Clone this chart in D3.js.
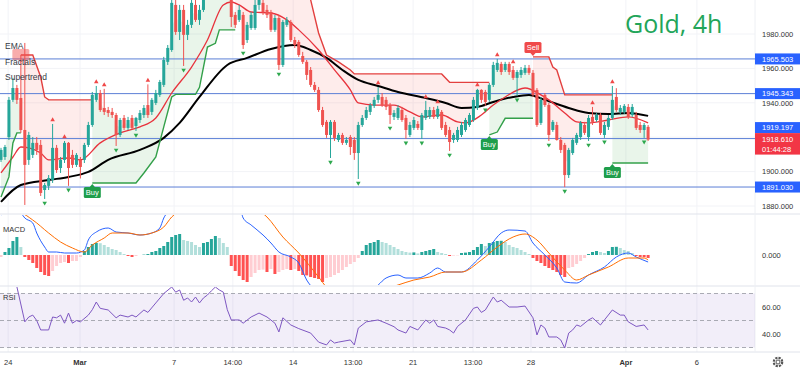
<!DOCTYPE html>
<html>
<head>
<meta charset="utf-8">
<script src="https://cdnjs.cloudflare.com/ajax/libs/d3/7.8.5/d3.min.js"></script>
<style>
  html, body { margin: 0; padding: 0; background: #fff; }
  svg { display: block; font-family: "Liberation Sans", Arial, sans-serif; }
</style>
</head>
<body>
<svg id="chart"></svg>
<script>
// ---- data (Gold 4h, 24 Feb - 1 Apr) ----
const opens = [
  1906.8, 1908.5, 1920.1, 1941.7, 1948.6, 1942.8, 1924.2, 1906.8, 1909.7, 1916.7,
  1915.5, 1889.3, 1891.7, 1895.1, 1913.8, 1902.1, 1906.8, 1916.7, 1909.7, 1903.9,
  1906.8, 1906.8, 1915.5, 1927.1, 1941.7, 1945.7, 1937.0, 1935.8, 1934.7, 1932.9,
  1921.3, 1931.2, 1925.4, 1931.2, 1926.5, 1930.0, 1932.9, 1938.7, 1934.7, 1939.9,
  1944.6, 1950.4, 1963.8, 1970.7, 1996.9, 1981.2, 1994.0, 1979.5, 1985.3, 1996.9,
  1988.2, 1994.0, 2005.6, 2012.0, 2040.0, 2050.0, 2040.0, 2025.0, 2008.0, 1991.1,
  1988.2, 1991.1, 1976.5, 1983.5, 1983.5, 1996.9, 1998.1, 1994.0, 1992.8, 1982.4,
  1989.3, 1962.0, 1985.3, 1987.0, 1976.5, 1975.4, 1967.2, 1963.8, 1959.1, 1950.4,
  1947.5, 1935.8, 1928.9, 1921.3, 1928.9, 1918.4, 1921.3, 1916.7, 1920.1, 1918.4,
  1910.8, 1927.1, 1931.2, 1934.7, 1938.2, 1941.7, 1943.4, 1941.7, 1938.7, 1931.8,
  1931.2, 1935.8, 1931.2, 1921.3, 1925.4, 1927.7, 1924.2, 1931.2, 1931.8, 1935.8,
  1931.8, 1934.7, 1927.1, 1924.2, 1918.4, 1918.4, 1921.3, 1924.2, 1927.1, 1930.0,
  1937.0, 1947.5, 1946.3, 1941.7, 1950.4, 1959.1, 1962.6, 1959.1, 1962.6, 1959.1,
  1954.5, 1956.2, 1957.4, 1960.3, 1957.4, 1947.5, 1928.3, 1944.6, 1938.7, 1924.2,
  1927.1, 1918.4, 1915.5, 1898.0, 1910.8, 1916.7, 1920.1, 1927.1, 1920.1, 1931.8,
  1930.0, 1932.9, 1921.3, 1926.0, 1931.2, 1943.4, 1934.7, 1934.7, 1937.6, 1932.9,
  1932.9, 1927.1, 1924.2, 1926.0
];
const highs = [
  1913.8, 1915.5, 1943.4, 1954.5, 1950.4, 1967.8, 1974.8, 1923.1, 1920.1, 1920.1,
  1918.4, 1893.4, 1898.0, 1927.7, 1915.5, 1908.5, 1917.8, 1917.2, 1912.6, 1910.8,
  1908.5, 1916.7, 1928.9, 1946.3, 1949.8, 1947.5, 1948.1, 1937.6, 1937.0, 1934.1,
  1931.2, 1932.9, 1931.8, 1932.9, 1931.8, 1935.8, 1938.7, 1950.7, 1942.8, 1947.5,
  1953.3, 1966.7, 1973.6, 2002.7, 2001.5, 1996.9, 1996.9, 1988.2, 2002.7, 2000.5,
  1996.9, 2008.5, 2015.0, 2045.0, 2070.0, 2060.0, 2045.0, 2030.0, 2010.0, 1992.8,
  1996.9, 1992.8, 1987.0, 1992.8, 1999.8, 2004.4, 1999.8, 1996.9, 1994.0, 1991.1,
  1991.1, 1988.2, 1989.9, 1988.2, 1978.3, 1976.5, 1969.6, 1964.9, 1960.8, 1952.1,
  1949.2, 1937.6, 1930.0, 1930.0, 1930.0, 1922.5, 1922.5, 1920.1, 1921.3, 1920.1,
  1928.9, 1932.9, 1937.6, 1939.9, 1943.4, 1949.2, 1945.7, 1943.4, 1939.9, 1935.8,
  1938.7, 1937.6, 1932.9, 1928.9, 1931.8, 1929.4, 1934.1, 1941.1, 1937.6, 1937.6,
  1938.2, 1935.8, 1928.9, 1926.0, 1922.5, 1926.0, 1928.9, 1931.2, 1934.1, 1943.4,
  1948.1, 1947.9, 1947.5, 1951.5, 1963.8, 1965.5, 1963.8, 1963.8, 1963.8, 1961.4,
  1959.1, 1960.8, 1962.0, 1962.0, 1959.1, 1948.6, 1943.4, 1945.7, 1939.9, 1930.0,
  1928.9, 1920.1, 1916.7, 1913.8, 1919.6, 1922.5, 1929.4, 1928.9, 1932.9, 1937.6,
  1934.1, 1934.1, 1928.9, 1932.9, 1949.8, 1948.5, 1938.7, 1939.3, 1939.3, 1939.3,
  1934.7, 1928.9, 1928.3, 1927.1
];
const lows = [
  1905.6, 1906.8, 1918.4, 1940.5, 1939.3, 1922.5, 1880.6, 1903.9, 1907.9, 1909.7,
  1885.8, 1884.1, 1889.3, 1893.4, 1899.2, 1899.2, 1905.0, 1891.7, 1902.1, 1902.7,
  1896.0, 1905.0, 1914.3, 1926.0, 1940.5, 1934.7, 1932.9, 1931.8, 1931.2, 1914.9,
  1920.1, 1924.2, 1924.2, 1924.8, 1923.6, 1928.3, 1931.2, 1931.2, 1932.9, 1938.7,
  1943.4, 1949.2, 1962.0, 1969.6, 1979.5, 1976.5, 1961.4, 1976.5, 1983.5, 1987.0,
  1985.3, 1992.8, 2002.5, 2010.0, 2030.0, 2035.0, 2015.0, 2002.0, 1984.1, 1983.5,
  1987.0, 1971.3, 1974.8, 1982.4, 1982.4, 1994.0, 1991.1, 1989.3, 1981.2, 1981.2,
  1959.1, 1960.8, 1984.1, 1975.4, 1971.9, 1966.7, 1962.6, 1953.3, 1949.2, 1946.3,
  1934.7, 1926.0, 1919.6, 1907.9, 1917.8, 1917.2, 1915.5, 1915.5, 1909.7, 1906.8,
  1895.7, 1926.0, 1930.0, 1932.9, 1937.0, 1939.9, 1937.6, 1935.8, 1927.7, 1930.0,
  1930.0, 1928.9, 1919.0, 1920.1, 1924.2, 1924.2, 1919.0, 1930.0, 1930.6, 1930.6,
  1930.6, 1924.2, 1920.1, 1912.0, 1916.7, 1917.2, 1920.1, 1923.1, 1926.0, 1928.9,
  1935.8, 1939.9, 1938.2, 1940.5, 1949.2, 1957.9, 1956.2, 1957.9, 1956.2, 1953.3,
  1944.0, 1954.5, 1956.2, 1956.2, 1943.4, 1926.0, 1927.1, 1937.6, 1917.8, 1923.1,
  1918.0, 1910.8, 1891.0, 1896.3, 1909.7, 1915.5, 1918.4, 1921.3, 1917.8, 1927.1,
  1928.9, 1921.3, 1919.6, 1924.2, 1930.0, 1934.7, 1932.9, 1933.5, 1930.6, 1931.8,
  1924.2, 1922.5, 1919.6, 1917.8
];
const closes = [
  1912.6, 1914.3, 1941.7, 1948.6, 1941.7, 1924.2, 1903.9, 1921.3, 1916.7, 1912.6,
  1887.6, 1892.2, 1896.3, 1913.8, 1900.9, 1906.8, 1916.7, 1902.1, 1903.9, 1909.7,
  1902.7, 1915.5, 1927.1, 1944.6, 1945.7, 1935.8, 1934.7, 1934.1, 1932.9, 1921.3,
  1930.0, 1925.4, 1930.0, 1925.4, 1931.2, 1934.1, 1937.0, 1932.9, 1941.7, 1945.7,
  1952.1, 1964.9, 1971.9, 1998.1, 1981.2, 1994.0, 1979.5, 1985.3, 1998.1, 1988.2,
  1994.0, 2005.6, 2012.0, 2040.0, 2050.0, 2040.0, 2025.0, 2008.0, 1989.9, 1985.3,
  1994.0, 1973.6, 1985.3, 1991.1, 1996.9, 2001.0, 1992.8, 1991.1, 1982.4, 1989.3,
  1962.0, 1987.0, 1988.2, 1976.5, 1973.6, 1967.8, 1963.8, 1956.2, 1950.4, 1947.5,
  1935.8, 1927.1, 1921.3, 1928.9, 1919.6, 1921.3, 1916.7, 1918.4, 1914.3, 1910.8,
  1927.1, 1931.2, 1935.8, 1938.7, 1941.7, 1944.6, 1938.7, 1937.6, 1932.9, 1934.1,
  1937.0, 1930.0, 1924.2, 1927.1, 1930.0, 1925.4, 1932.9, 1935.8, 1935.8, 1931.8,
  1936.5, 1925.4, 1921.3, 1917.2, 1921.3, 1924.2, 1927.1, 1930.0, 1932.9, 1941.7,
  1947.5, 1941.7, 1940.5, 1950.4, 1962.0, 1963.2, 1957.9, 1962.6, 1957.9, 1954.5,
  1957.9, 1959.1, 1960.3, 1957.4, 1944.6, 1927.1, 1941.7, 1938.7, 1921.3, 1928.9,
  1918.4, 1912.6, 1898.0, 1912.6, 1918.4, 1921.3, 1928.3, 1922.5, 1931.2, 1928.9,
  1932.9, 1922.5, 1927.1, 1931.2, 1941.7, 1935.8, 1937.0, 1938.2, 1931.8, 1937.6,
  1925.4, 1924.2, 1927.1, 1918.61
];

// EMA lines, [bar, value]
const emaFast = [[0,1899.2],[3,1908.5],[5,1914.3],[7,1913.8],[10,1910.8],[12,1906.8],[17,1907.9],[20,1906.8],
  [25,1916.7],[30,1922.5],[35,1926.0],[39,1931.2],[43,1945.7],[48,1960.8],[52,1976.5],[56,1996.9],[58,1998.6],
  [60,1996.9],[63,1992.8],[68,1992.2],[72,1988.2],[75,1982.4],[80,1970.7],[84,1959.1],[88,1947.5],[90,1939.9],
  [94,1938.7],[99,1938.7],[103,1934.7],[106,1931.8],[111,1932.9],[115,1928.9],[117,1928.3],[121,1932.9],
  [124,1938.7],[127,1943.4],[132,1948.6],[136,1944.6],[138,1941.7],[142,1934.1],[145,1928.9],[148,1928.3],
  [153,1930.0],[158,1931.8],[163,1928.3]];
const emaSlow = [[0,1882.4],[5,1892.2],[12,1895.1],[17,1896.9],[22,1899.8],[27,1906.8],[35,1912.6],[41,1919.6],
  [45,1928.3],[50,1943.4],[57,1962.0],[62,1966.1],[68,1971.3],[74,1973.6],[78,1970.7],[82,1966.1],[86,1959.1],
  [90,1953.3],[95,1949.8],[100,1946.3],[107,1942.8],[112,1939.9],[116,1937.0],[120,1937.6],[124,1940.5],
  [129,1943.4],[133,1944.6],[137,1941.7],[143,1937.0],[148,1934.1],[153,1933.5],[158,1934.1],[163,1932.4]];

// supertrend segments
const superUp = [
  [[0,1885.3],[2,1896.9],[3,1916.7],[4,1922.5],[5,1922.5]],
  [[23,1893.4],[34,1893.4],[36,1899.2],[39,1908.5],[41,1926.0],[43,1943.4],[44,1944.9],[49,1944.9],[50,1949.0],
   [52,1972.4],[54,1974.6],[55,1982.4],[59,1982.4]],
  [[123,1921.3],[125,1923.0],[127,1931.0],[134,1931.0]],
  [[154,1905.0],[163,1905.0]]
];
const superDown = [
  [[5,1967.8],[8,1967.8],[10,1955.0],[11,1943.4],[12,1941.7],[23,1941.7]],
  [[59,2020.0],[75,2015.0],[77,2003.0],[78,1999.8],[80,1980.6],[82,1967.8],[85,1963.8],[88,1959.1],[89,1956.8],
   [111,1956.8],[113,1951.9],[123,1951.9]],
  [[134,1966.7],[138,1966.7],[139,1960.8],[140,1959.1],[142,1944.6],[154,1944.6]]
];

const fractalUp = [13, 16, 24, 26, 37, 95, 107, 110, 120, 125, 129, 149, 154];
const fractalDown = [11, 17, 29, 34, 46, 61, 70, 83, 90, 98, 102, 106, 113, 122, 130, 138, 142, 148, 152, 162];

const levels = [1965.503, 1945.343, 1919.197, 1891.030];
const lastPrice = 1918.61;
const countdown = '01:44:28';
const priceTicks = [1880, 1900, 1940, 1960, 1980];

// MACD
const hist = [
  -1, 1.5, 3.5, 7, 9, 4, -1, -2.5, -4, -6.5,
  -8.5, -10, -10.5, -8, -5.5, -4, -3.5, -4, -3, -3,
  -1, 2, 4, 5.5, 6, 5.9, 5, 4, 3, 2.5,
  1.5, 0.5, -0.5, -1, -0.5, 0, 0.2, 0.5, 1.5, 2,
  3.5, 4.5, 6.5, 9, 10, 10.5, 7.5, 7, 6.5, 5,
  4, 6, 6.5, 8, 9.5, 8.5, 6, 4, -5.5, -8,
  -10.5, -12.5, -13.5, -11, -9, -7.5, -7.3, -8.5, -7, -9.5,
  -8.5, -7.5, -7, -7.5, -7, -8, -10, -10.2, -11, -11.5,
  -12, -13.5, -11.5, -11, -10, -9, -7.5, -6, -4.5, -3.5,
  -1.5, 2, 5, 6, 6.5, 7.5, 6.5, 6, 5, 4,
  3, 2, 1.5, 1.2, 1.3, 0.8, 1.5, 2, 2.5, 3,
  1.5, 1, 0.5, -0.5, -0.3, -0.2, 1, 1.2, 1.5, 2.5,
  4, 5.5, 4.5, 6, 6.5, 7, 7.1, 6.5, 5, 4,
  3.5, 2.5, 1.5, 0.5, -1.5, -3, -4, -5.5, -6.5, -7.5,
  -8.5, -10, -11, -6.5, -6, -4.5, -3, -1.5, 0.5, 1.5,
  2, 1.5, 1, 2, 4, 4.1, 3.5, 2.5, 2, 1,
  -0.5, -1, -1.1, -1.5
];
const macdLine = [[0,20],[3,23],[5,21],[6,18.5],[8,16],[9,11],[11,4],[12,1.5],[14,1.5],[16,1],[19,1],[21,2.5],
  [22,7.5],[24,11.5],[27,13.5],[29,11.5],[32,11],[35,10],[38,11],[40,13.5],[41,18.5],[42,21.5],[46,28],[50,33],
  [54,36],[57,34],[60,26],[61,18.5],[63,15],[66,10],[68,6],[70,1.5],[73,-1],[75,-4],[77,-12.5],[79,-17.5],
  [84,-25],[90,-22],[95,-15],[97,-11.5],[100,-10],[102,-11.5],[105,-11.5],[108,-9],[110,-6.5],[112,-8.5],
  [116,-8.5],[120,-2.5],[123,4],[126,11],[128,12.5],[132,12],[134,6],[137,0],[140,-6.5],[142,-13.5],
  [145,-14],[148,-10],[152,-6],[155,-1],[158,1],[160,-1],[163,-3.5]];
const signalLine = [[0,22],[5,21],[8,17.5],[12,11],[15,6.5],[18,3.5],[21,1.5],[23,5],[26,8.5],[28,11],[32,11],
  [35,10],[38,11],[41,14],[43,19],[50,26],[57,28],[62,25],[67,19],[71,9],[75,1],[80,-11],[82,-16],[88,-21],
  [93,-19],[100,-15],[104,-12.5],[108,-11],[112,-8.5],[116,-8.5],[121,-2.5],[125,4],[129,9],[132,10.5],
  [135,7.5],[138,1],[142,-7.5],[145,-12.5],[148,-10],[153,-6],[158,-1.5],[162,-1.5],[163,-2.5]];

// RSI
const rsiPts = [[0,78],[3,80],[4,75],[6,49],[7,52.6],[8,54],[9,50],[10,43],[12,43],[13,52.6],[14,52],[15,54],
  [16,48],[17,55.5],[18,48],[19,50],[20,49],[22,54],[23,58],[24,63.7],[25,59],[27,57.8],[29,52],[30,54],
  [32,52.6],[33,54],[34,52.6],[36,57.8],[37,56],[39,63],[41,70],[43,74.8],[44,71],[45,72.6],[46,65],[47,66.7],
  [48,63.7],[49,67.4],[50,63],[51,66.7],[52,68.9],[53,72],[54,74.8],[55,72.6],[56,71],[57,58],[58,50.4],
  [60,50.4],[61,48],[63,52.6],[65,55.5],[67,52.6],[69,48],[70,41.5],[71,52],[73,46.7],[75,44],[78,40.7],
  [80,34],[82,31.9],[83,35.6],[84,33.3],[85,34],[88,35.6],[89,31.9],[90,44.4],[92,49],[95,50.4],[97,48],
  [99,45.4],[100,43],[102,40.7],[103,45.6],[105,43],[107,50.4],[108,48],[109,50.4],[110,45.6],[112,44.4],
  [113,43],[114,40.7],[115,45.6],[117,50.4],[119,59],[120,60],[121,56],[122,57.8],[124,67.4],[125,63.7],
  [126,65],[128,60],[130,60],[132,60.7],[134,52],[135,39.3],[136,46.7],[137,44.4],[138,37.8],[140,37.8],
  [141,35.6],[142,29.6],[143,40.7],[144,43],[145,46.7],[146,45.6],[148,50.4],[149,52],[151,46.7],[152,50.4],
  [154,57.8],[156,54],[157,54],[158,49],[160,45.6],[162,46.7],[163,43]];
const rsiTicks = [40, 60];

// time axis
const timeLabels = ['24', 'Mar', '7', '14:00', '14', '13:00', '21', '13:00', '28', 'Apr', '6'];
const timeBars = [1.8, 19.9, 43.6, 58.4, 73.6, 88.7, 103.8, 118.9, 133.5, 157.4, 175.3];

// ---- drawing ----
const W = 800, H = 371, plotRight = 755;
const upColor = '#26a69a', downColor = '#ef5350';
const svg = d3.select('#chart').attr('width', W).attr('height', H);
svg.append('rect').attr('width', W).attr('height', H).attr('fill', '#fff');

const x = d3.scaleLinear().domain([0, closes.length - 1]).range([1, 648.1]);
const y = d3.scaleLinear().domain([1880, 1980]).range([206, 34]);
const yMacd = d3.scaleLinear().domain([0, 10]).range([255, 235]);
const yRsi = d3.scaleLinear().domain([30, 70]).range([347.5, 293.5]);

const defs = svg.append('defs');
const addClip = (id, y0, y1) => defs.append('clipPath').attr('id', id)
  .append('rect').attr('x', 0).attr('y', y0).attr('width', plotRight).attr('height', y1 - y0);
addClip('cp-price', 0, 213);
addClip('cp-macd', 215, 285);
addClip('cp-rsi', 287, 351);

// grid
const grid = svg.append('g');
grid.selectAll('line.v').data(timeBars).join('line')
  .attr('x1', d => x(d)).attr('x2', d => x(d)).attr('y1', 0).attr('y2', 352)
  .attr('stroke', '#f2f3f7');
grid.selectAll('line.h').data(priceTicks.concat([1920])).join('line')
  .attr('x1', 0).attr('x2', plotRight).attr('y1', d => y(d)).attr('y2', d => y(d))
  .attr('stroke', '#f2f3f7');

// panel separators
[214, 286, 352].forEach(v => svg.append('line').attr('x1', 0).attr('x2', W).attr('y1', v).attr('y2', v)
  .attr('stroke', '#e0e3eb'));
svg.append('line').attr('x1', plotRight).attr('x2', plotRight).attr('y1', 0).attr('y2', 352).attr('stroke', '#eef0f4');

// ---- price panel ----
const gp = svg.append('g').attr('clip-path', 'url(#cp-price)');
const mids = opens.map((o, i) => (o + closes[i]) / 2);

function fillPts(seg) {
  const a = seg[0][0], b = seg[seg.length - 1][0];
  const pts = seg.map(([i, v]) => [x(i), y(v)]);
  for (let i = b; i >= a; i--) pts.push([x(i), y(mids[i])]);
  return pts;
}
gp.selectAll('polygon.up').data(superUp).join('polygon')
  .attr('points', d => fillPts(d).join(' ')).attr('fill', 'rgba(76,175,80,0.12)');
gp.selectAll('polygon.dn').data(superDown).join('polygon')
  .attr('points', d => fillPts(d).join(' ')).attr('fill', 'rgba(244,67,54,0.10)');

// horizontal levels
gp.selectAll('line.lvl').data(levels).join('line')
  .attr('x1', 0).attr('x2', plotRight).attr('y1', d => y(d)).attr('y2', d => y(d))
  .attr('stroke', '#5b7fd6').attr('stroke-width', 1);

const line = d3.line().x(d => x(d[0])).y(d => y(d[1]));
gp.append('path').datum(emaSlow).attr('d', line.curve(d3.curveMonotoneX))
  .attr('fill', 'none').attr('stroke', '#000').attr('stroke-width', 2);
gp.append('path').datum(emaFast).attr('d', line.curve(d3.curveMonotoneX))
  .attr('fill', 'none').attr('stroke', '#e8333d').attr('stroke-width', 1.3);

const stLine = d3.line().x(d => x(d[0])).y(d => y(d[1]));
gp.selectAll('path.stu').data(superUp).join('path').attr('d', stLine)
  .attr('fill', 'none').attr('stroke', '#33a04a').attr('stroke-width', 1.4);
gp.selectAll('path.std').data(superDown).join('path').attr('d', stLine)
  .attr('fill', 'none').attr('stroke', '#e3403f').attr('stroke-width', 1.4);

// candles
const idx = d3.range(closes.length);
const candleColor = i => closes[i] >= opens[i] ? upColor : downColor;
gp.selectAll('line.wick').data(idx).join('line')
  .attr('x1', i => x(i)).attr('x2', i => x(i))
  .attr('y1', i => y(highs[i])).attr('y2', i => y(lows[i]))
  .attr('stroke', candleColor).attr('stroke-width', 1);
gp.selectAll('rect.body').data(idx).join('rect')
  .attr('x', i => x(i) - 1.5).attr('width', 3)
  .attr('y', i => y(Math.max(opens[i], closes[i])))
  .attr('height', i => Math.max(1, Math.abs(y(opens[i]) - y(closes[i]))))
  .attr('fill', candleColor);

// fractals
const tri = d3.symbol(d3.symbolTriangle).size(9);
gp.selectAll('path.fu').data(fractalUp).join('path').attr('d', tri)
  .attr('transform', i => `translate(${x(i)},${y(highs[i]) - 4})`).attr('fill', '#f04848');
gp.selectAll('path.fd').data(fractalDown).join('path').attr('d', tri)
  .attr('transform', i => `translate(${x(i)},${y(lows[i]) + 4}) rotate(180)`).attr('fill', '#2ea84e');

// buy / sell labels
function signal(g, i, v, up, withText) {
  const cx = x(i), cy = y(v);
  if (cy < 12) return; // label would sit above the panel
  const col = up ? '#1f9e4b' : '#f04a4a';
  const top = up ? cy + 4 : cy - 15;
  g.append('path')
    .attr('d', up ? `M${cx},${cy + 1}L${cx - 3},${cy + 4.5}L${cx + 3},${cy + 4.5}Z`
                  : `M${cx},${cy - 1}L${cx - 3},${cy - 4.5}L${cx + 3},${cy - 4.5}Z`)
    .attr('fill', col);
  g.append('rect').attr('x', cx - 8.5).attr('y', top).attr('width', 17).attr('height', 11)
    .attr('rx', 1.5).attr('fill', col);
  if (withText) {
    g.append('text').attr('x', cx).attr('y', top + 8.2).attr('text-anchor', 'middle')
      .attr('font-size', 7.5).attr('fill', '#fff').text(up ? 'Buy' : 'Sell');
  }
}
superUp.slice(1).forEach(s => signal(gp, s[0][0], s[0][1], true, true));
// first sell sits under the legend and is washed out there
const faint = gp.append('g').attr('opacity', 0.45).attr('transform', 'translate(0,9)');
signal(faint, superDown[0][0][0], superDown[0][0][1], false, false);
superDown.slice(1).forEach(s => signal(gp, s[0][0], s[0][1], false, true));

// legend + title
const legend = ['EMA', 'Fractals', 'Supertrend'];
svg.selectAll('text.leg').data(legend).join('text')
  .attr('x', 5).attr('y', (d, k) => 49 + k * 15.5)
  .attr('font-size', 8.5).attr('fill', '#363a45').text(d => d);
svg.append('text').attr('x', 625).attr('y', 33).attr('font-family', '"Open Sans", sans-serif')
  .attr('font-size', 25).attr('fill', '#22a559').text('Gold, 4h');

// price axis
svg.selectAll('text.pt').data(priceTicks).join('text')
  .attr('x', 762).attr('y', d => y(d) + 2.7).attr('font-size', 7.5).attr('fill', '#333')
  .text(d => d3.format('.3f')(d));

const lastY = y(lastPrice);
const lastTop = lastY - 6.5, lastBottom = lastY + 15;
levels.forEach(v => {
  let cy = y(v);
  if (cy + 5.5 > lastTop && cy - 5.5 < lastBottom) cy = lastTop - 5.5;
  svg.append('rect').attr('x', 755).attr('y', cy - 5.5).attr('width', 45).attr('height', 11).attr('fill', '#2962ff');
  svg.append('text').attr('x', 762).attr('y', cy + 2.7).attr('font-size', 7.5).attr('fill', '#fff')
    .text(d3.format('.3f')(v));
});
svg.append('rect').attr('x', 755).attr('y', lastTop).attr('width', 45).attr('height', lastBottom - lastTop).attr('fill', '#f23645');
svg.append('text').attr('x', 762).attr('y', lastY + 2.7).attr('font-size', 7.5).attr('fill', '#fff').text(d3.format('.3f')(lastPrice));
svg.append('text').attr('x', 762).attr('y', lastY + 12).attr('font-size', 7.5).attr('fill', '#fff').text(countdown);

// ---- MACD ----
const gm = svg.append('g').attr('clip-path', 'url(#cp-macd)');
const histColor = i => {
  const v = hist[i], p = i > 0 ? hist[i - 1] : v;
  if (v >= 0) return v >= p ? '#26a69a' : '#b2dfdb';
  return v < p ? '#ff5252' : '#ffcdd2';
};
gm.selectAll('rect.h').data(d3.range(hist.length)).join('rect')
  .attr('x', i => x(i) - 1.5).attr('width', 3)
  .attr('y', i => yMacd(Math.max(0, hist[i])))
  .attr('height', i => Math.abs(yMacd(hist[i]) - yMacd(0)))
  .attr('fill', histColor);
const mLine = d3.line().x(d => x(d[0])).y(d => yMacd(d[1])).curve(d3.curveMonotoneX);
gm.append('path').datum(macdLine).attr('d', mLine).attr('fill', 'none').attr('stroke', '#2962ff').attr('stroke-width', 1);
gm.append('path').datum(signalLine).attr('d', mLine).attr('fill', 'none').attr('stroke', '#ff6d00').attr('stroke-width', 1);
svg.append('text').attr('x', 3).attr('y', 232).attr('font-size', 7.5).attr('fill', '#333').text('MACD');
svg.append('text').attr('x', 762).attr('y', yMacd(0) + 2.7).attr('font-size', 7.5).attr('fill', '#333').text('0.000');

// ---- RSI ----
const gr = svg.append('g').attr('clip-path', 'url(#cp-rsi)');
gr.append('rect').attr('x', 0).attr('width', plotRight).attr('y', yRsi(70)).attr('height', yRsi(30) - yRsi(70))
  .attr('fill', 'rgba(126,87,194,0.10)');
gr.selectAll('line.rl').data([70, 50, 30]).join('line')
  .attr('x1', 0).attr('x2', plotRight).attr('y1', d => yRsi(d)).attr('y2', d => yRsi(d))
  .attr('stroke', '#9598a1').attr('stroke-dasharray', '4,3').attr('stroke-width', 0.8);
gr.append('path').datum(rsiPts)
  .attr('d', d3.line().x(d => x(d[0])).y(d => yRsi(d[1])))
  .attr('fill', 'none').attr('stroke', '#7e57c2').attr('stroke-width', 1);
svg.append('text').attr('x', 3).attr('y', 300).attr('font-size', 7.5).attr('fill', '#333').text('RSI');
svg.selectAll('text.rt').data(rsiTicks).join('text')
  .attr('x', 762).attr('y', d => yRsi(d) + 2.7).attr('font-size', 7.5).attr('fill', '#333')
  .text(d => d3.format('.2f')(d));

// ---- time axis ----
svg.selectAll('text.t').data(timeLabels).join('text')
  .attr('x', (d, k) => x(timeBars[k])).attr('y', 365).attr('text-anchor', 'middle')
  .attr('font-size', 7.5).attr('fill', '#333')
  .attr('font-weight', d => /^[A-Z]/.test(d) ? 'bold' : 'normal')
  .text(d => d);

// settings gear
const gear = svg.append('g').attr('transform', 'translate(778,362)');
gear.append('circle').attr('r', 4.2).attr('fill', 'none').attr('stroke', '#555').attr('stroke-width', 2.2)
  .attr('stroke-dasharray', '2.2,1.1');
gear.append('circle').attr('r', 2).attr('fill', 'none').attr('stroke', '#555').attr('stroke-width', 1);
</script>
</body>
</html>
